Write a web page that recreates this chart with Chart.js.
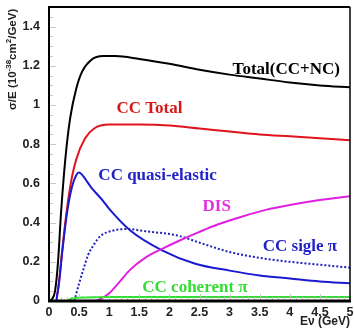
<!DOCTYPE html>
<html><head><meta charset="utf-8">
<script src="https://cdn.jsdelivr.net/npm/chart.js@4/dist/chart.umd.min.js"></script>
<style>html,body{margin:0;padding:0;background:#fff}canvas{display:block}</style>
</head><body>
<canvas id="c" width="354" height="328"></canvas>
<script>
// ---- data ----
const xTicks = [0, 0.5, 1, 1.5, 2, 2.5, 3, 3.5, 4, 4.5, 5];
const yTicks = [0, 0.2, 0.4, 0.6, 0.8, 1, 1.2, 1.4];

const totalE = [0, 0.05, 0.1, 0.15, 0.2, 0.27, 0.35, 0.45, 0.55, 0.7, 0.9, 1.1, 1.5, 2.0, 2.5, 3.0, 3.5, 4.0, 4.5, 5.0];
const totalY = [0, 0.01, 0.05, 0.2, 0.45, 0.72, 0.93, 1.08, 1.17, 1.23, 1.25, 1.25, 1.235, 1.21, 1.18, 1.155, 1.135, 1.115, 1.1, 1.09];

const ccTotE = [0.12, 0.16, 0.2, 0.27, 0.35, 0.45, 0.6, 0.75, 1.0, 1.5, 2.0, 2.5, 3.0, 3.5, 4.0, 4.5, 5.0];
const ccTotY = [0, 0.08, 0.2, 0.4, 0.58, 0.72, 0.83, 0.88, 0.9, 0.9, 0.895, 0.88, 0.865, 0.85, 0.84, 0.83, 0.82];

const qeE = [0.12, 0.17, 0.22, 0.3, 0.38, 0.45, 0.5, 0.56, 0.7, 0.9, 1.0, 1.35, 1.87, 2.43, 3.0, 3.5, 4.0, 4.5, 5.0];
const qeY = [0, 0.1, 0.25, 0.45, 0.58, 0.64, 0.655, 0.64, 0.58, 0.51, 0.47, 0.36, 0.26, 0.19, 0.155, 0.13, 0.115, 0.1, 0.09];

const piE = [0.42, 0.5, 0.57, 0.65, 0.75, 0.85, 1.07, 1.3, 1.62, 2.12, 2.48, 3.0, 3.5, 4.0, 4.5, 5.0];
const piY = [0, 0.09, 0.16, 0.235, 0.29, 0.33, 0.36, 0.367, 0.355, 0.335, 0.3, 0.25, 0.22, 0.2, 0.185, 0.17];

const disE = [0.15, 0.73, 0.85, 1.0, 1.15, 1.35, 1.62, 1.87, 2.18, 2.48, 2.8, 3.2, 3.6, 4.0, 4.5, 5.0];
const disY = [0, 0, 0.01, 0.04, 0.09, 0.16, 0.225, 0.265, 0.31, 0.35, 0.39, 0.43, 0.465, 0.49, 0.515, 0.535];

const cohE = [0.3, 0.4, 0.6, 1.0, 2.0, 3.0, 4.0, 5.0];
const cohY = [0, 0.015, 0.018, 0.02, 0.02, 0.02, 0.02, 0.02];

const seriesLabels = ["Total(CC+NC)", "CC Total", "CC quasi-elastic", "CC sigle \u03c0", "DIS", "CC coherent \u03c0"];

function pts(xs, ys){ return xs.map((x,i)=>({x:x, y:ys[i]})); }

// label anchor positions in data units (left x, middle y)
const labelPos = [
  {x: 3.05, y: 1.18, c: '#000000'},
  {x: 1.12, y: 0.98, c: '#d81818'},
  {x: 0.82, y: 0.64, c: '#2222c8'},
  {x: 3.55, y: 0.28, c: '#2222c8'},
  {x: 2.55, y: 0.48, c: '#e030e0'},
  {x: 1.55, y: 0.07, c: '#33dd33'}
];

const framePlugin = {
  id: 'frame',
  afterDatasetsDraw(chart){
    const {ctx, chartArea:a, scales:{x, y}} = chart;
    ctx.save();
    // ticks (faint, inward)
    ctx.strokeStyle = '#c8c8c8'; ctx.lineWidth = 1;
    for (let v = 0; v <= 1.5001; v += 0.05) {
      const py = Math.round(y.getPixelForValue(v)) + 0.5;
      const major = Math.abs(v/0.2 - Math.round(v/0.2)) < 1e-6;
      const len = major ? 7 : 4;
      ctx.beginPath(); ctx.moveTo(a.left, py); ctx.lineTo(a.left + len, py); ctx.stroke();
    }
    for (let v = 0; v <= 5.0001; v += 0.1) {
      const px = Math.round(x.getPixelForValue(v)) + 0.5;
      const major = Math.abs(v/0.5 - Math.round(v/0.5)) < 1e-6;
      const len = major ? 7 : 4;
      ctx.beginPath(); ctx.moveTo(px, a.bottom); ctx.lineTo(px, a.bottom - len); ctx.stroke();
    }
    // frame
    ctx.strokeStyle = '#000';
    ctx.lineWidth = 2;
    ctx.beginPath(); ctx.moveTo(a.left, a.bottom); ctx.lineTo(a.left, a.top); ctx.lineTo(a.right, a.top); ctx.stroke();
    ctx.lineWidth = 1.5;
    ctx.beginPath(); ctx.moveTo(a.right, a.top); ctx.lineTo(a.right, a.bottom); ctx.stroke();
    ctx.lineWidth = 3;
    ctx.beginPath(); ctx.moveTo(a.left - 1, a.bottom); ctx.lineTo(a.right + 1, a.bottom); ctx.stroke();

    // series labels
    ctx.font = 'bold 17px "Liberation Serif", "Times New Roman", serif';
    ctx.textBaseline = 'middle'; ctx.textAlign = 'left';
    seriesLabels.forEach((t, i) => {
      const p = labelPos[i];
      ctx.fillStyle = p.c;
      ctx.fillText(t, x.getPixelForValue(p.x), y.getPixelForValue(p.y));
    });

    // x axis title
    ctx.fillStyle = '#222';
    ctx.font = 'bold 12px "Liberation Sans", Arial, sans-serif';
    ctx.textAlign = 'right'; ctx.textBaseline = 'middle';
    ctx.fillText('E\u03bd (GeV)', a.right, 322);

    // y axis title with superscripts
    ctx.translate(13, 110);
    ctx.rotate(-Math.PI/2);
    ctx.textAlign = 'left'; ctx.textBaseline = 'middle';
    const parts = [['\u03c3/E (10', false], ['-38', true], ['cm', false], ['2', true], ['/GeV)', false]];
    let cx = 0;
    parts.forEach(([t, sup]) => {
      ctx.font = sup ? 'bold 8px "Liberation Sans", Arial, sans-serif' : 'bold 11.5px "Liberation Sans", Arial, sans-serif';
      ctx.fillText(t, cx, sup ? -4 : 0);
      cx += ctx.measureText(t).width;
    });
    ctx.restore();
  }
};

const common = {fill: false, pointRadius: 0, borderWidth: 2, cubicInterpolationMode: 'monotone'};

new Chart(document.getElementById('c'), {
  type: 'line',
  data: {
    datasets: [
      Object.assign({label: seriesLabels[5], data: pts(cohE, cohY), borderColor: '#33dd33'}, common),
      Object.assign({label: seriesLabels[4], data: pts(disE, disY), borderColor: '#e020e0'}, common),
      Object.assign({label: seriesLabels[3], data: pts(piE, piY), borderColor: '#2020c0', borderDash: [2, 2]}, common),
      Object.assign({label: seriesLabels[2], data: pts(qeE, qeY), borderColor: '#1a1ad0'}, common),
      Object.assign({label: seriesLabels[1], data: pts(ccTotE, ccTotY), borderColor: '#e0141e'}, common),
      Object.assign({label: seriesLabels[0], data: pts(totalE, totalY), borderColor: '#000000'}, common)
    ]
  },
  options: {
    responsive: false, animation: false, devicePixelRatio: 1,
    layout: {padding: {top: 7, right: 4, left: 0, bottom: 0}},
    plugins: {legend: {display: false}, tooltip: {enabled: false}},
    scales: {
      x: {
        type: 'linear', min: 0, max: 5,
        grid: {display: false, drawTicks: false, tickLength: 0}, border: {display: false},
        afterBuildTicks(s){ s.ticks = xTicks.map(v => ({value: v})); },
        afterFit(s){ s.height = 27; s.paddingRight = 0; s.paddingLeft = 0; },
        ticks: {padding: 4, maxRotation: 0, autoSkip: false, color: '#222',
          font: {family: '"Liberation Sans", Arial, sans-serif', size: 12.5, weight: 'bold'},
          callback: v => String(v)}
      },
      y: {
        type: 'linear', min: 0, max: 1.5,
        grid: {display: false, drawTicks: false, tickLength: 0}, border: {display: false},
        afterBuildTicks(s){ s.ticks = yTicks.map(v => ({value: v})); },
        afterFit(s){ s.width = 49; s.paddingTop = 0; s.paddingBottom = 0; },
        ticks: {padding: 9, color: '#222',
          font: {family: '"Liberation Sans", Arial, sans-serif', size: 12.5, weight: 'bold'},
          callback: v => String(Math.round(v*10)/10)}
      }
    }
  },
  plugins: [framePlugin]
});
</script>
</body></html>
